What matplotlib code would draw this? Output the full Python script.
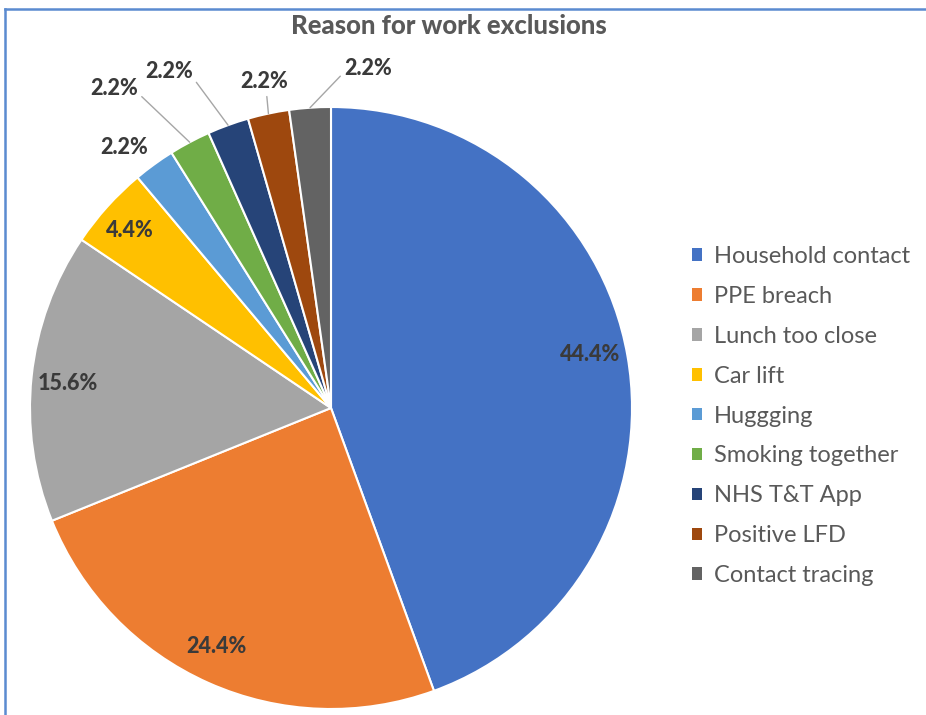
#!/usr/bin/env python3
"""Pie chart of reasons for work exclusions."""

import matplotlib

matplotlib.use("Agg")

import matplotlib.pyplot as plt
import numpy as np
from matplotlib.lines import Line2D

reasons = [
    "Household contact",
    "PPE breach",
    "Lunch too close",
    "Car lift",
    "Huggging",
    "Smoking together",
    "NHS T&T App",
    "Positive LFD",
    "Contact tracing",
]
counts = [20, 11, 7, 2, 1, 1, 1, 1, 1]
pct_text = ["44.4%", "24.4%", "15.6%", "4.4%", "2.2%", "2.2%", "2.2%", "2.2%", "2.2%"]

colors = ["#4472C4", "#ED7D31", "#A5A5A5", "#FFC000", "#5B9BD5",
          "#70AD47", "#264478", "#9E480E", "#636363"]

# label placement: radius (pie radius = 1), angle shift in degrees, leader anchor
label_layout = [
    (0.878, 1.6, None),
    (0.881, -1.7, None),
    (0.878, 0.6, None),
    (0.89, 0.6, None),
    (1.104, 2.5, None),
    (1.282, 6.2, (1.0, 0.3)),
    (1.242, 5.7, (1.0, 0.2)),
    (1.106, -0.4, (0.55, 0.0)),
    (1.136, -10.2, (0.0, 0.3)),
]

plt.rcParams["font.family"] = ["Lato", "DejaVu Sans"]

W, H = 926, 715
fig = plt.figure(figsize=(W / 100, H / 100), dpi=100)

# pie centre (331, 408) px, radius 301 px
cx, cy, r = 331, 408, 301
ax = fig.add_axes([(cx - r) / W, (H - cy - r) / H, 2 * r / W, 2 * r / H])
wedges, _ = ax.pie(
    counts,
    colors=colors,
    startangle=90,
    counterclock=False,
    radius=1.0,
    wedgeprops=dict(edgecolor="white", linewidth=1.5),
)
ax.set_xlim(-1, 1)
ax.set_ylim(-1, 1)
ax.set_aspect("equal")
ax.axis("off")

lbl_style = dict(ha="center", va="center", fontsize=15.5, fontweight=900,
                 color="#3a3a3a")
for w, txt, (lr, dang, anchor) in zip(wedges, pct_text, label_layout):
    mid = np.deg2rad((w.theta1 + w.theta2) / 2)
    pos = np.deg2rad(np.rad2deg(mid) + dang)
    xt, yt = lr * np.cos(pos), lr * np.sin(pos)
    if anchor is None:
        ax.text(xt, yt, txt, **lbl_style)
    else:
        ax.annotate(
            txt,
            xy=(np.cos(mid), np.sin(mid)),
            xytext=(xt, yt),
            annotation_clip=False,
            arrowprops=dict(arrowstyle="-", color="#A6A6A6", lw=1.0,
                            shrinkA=1, shrinkB=0, relpos=anchor),
            **lbl_style,
        )

fig.text(449 / W, 1 - 26 / H, "Reason for work exclusions", ha="center",
         va="center", fontsize=18.5, fontweight=900, color="#595959")

leg = fig.legend(
    wedges,
    reasons,
    loc="upper left",
    bbox_to_anchor=(692 / W, 1 - 246 / H),
    frameon=False,
    fontsize=17,
    handlelength=0.44,
    handleheight=0.44,
    handletextpad=0.5,
    labelspacing=0.8,
    borderaxespad=0,
    borderpad=0,
)
for t in leg.get_texts():
    t.set_color("#595959")
for h in leg.legend_handles:
    h.set_edgecolor("none")

# thin blue frame visible at top and left
fig.add_artist(Line2D([5 / W, 1], [1 - 9 / H, 1 - 9 / H], color="#5B8BD0", lw=1.8))
fig.add_artist(Line2D([5 / W, 5 / W], [0, 1 - 9 / H], color="#5B8BD0", lw=1.8))

fig.savefig("out.png", dpi=100, facecolor="white")
plt.close(fig)
